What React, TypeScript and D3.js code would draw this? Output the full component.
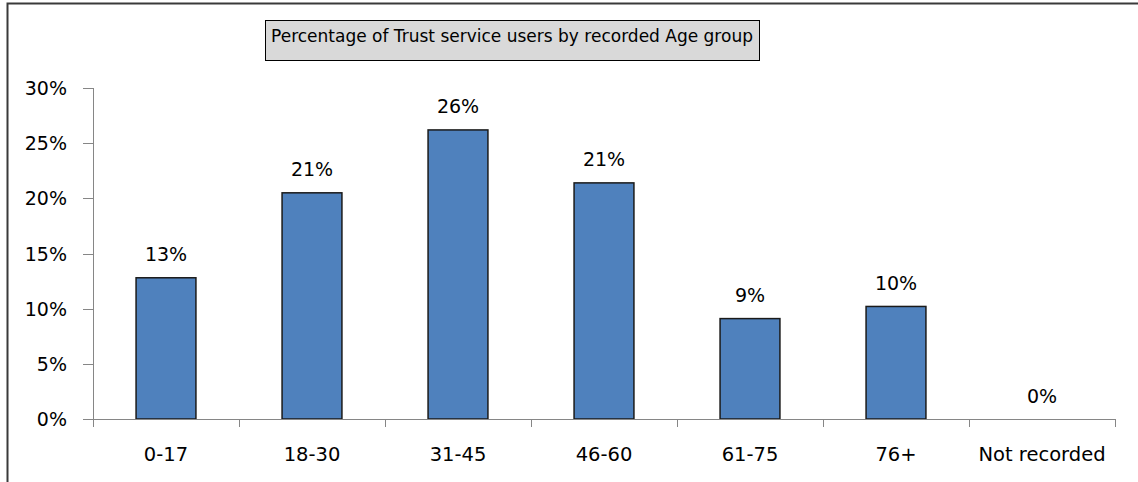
import React from "react";
import * as d3 from "d3";

const categories = ["0-17", "18-30", "31-45", "46-60", "61-75", "76+", "Not recorded"];
const values = [12.8, 20.5, 26.2, 21.4, 9.1, 10.2, 0];
const labels = ["13%", "21%", "26%", "21%", "9%", "10%", "0%"];
const yTicks = [0, 5, 10, 15, 20, 25, 30];
const title = "Percentage of Trust service users by recorded Age group";

export default function App() {
  const W = 1138, H = 482;
  const left = 93, right = 1115, top = 88, bottom = 419;
  const x = d3.scaleBand<string>().domain(categories).range([left, right]).paddingInner(0.59).paddingOuter(0.295);
  const xOuter = d3.scaleBand<string>().domain(categories).range([left, right]);
  const y = d3.scaleLinear().domain([0, 30]).range([bottom, top]);
  const font = "'DejaVu Sans', 'Liberation Sans', sans-serif";
  const bounds = [...categories.map((c) => xOuter(c)!), right];
  return (
    <svg width={W} height={H} style={{ position: "absolute", left: 0, top: 0, display: "block" }}>
      <rect x={0} y={0} width={W} height={H} fill="#fff" />
      <path d={`M7.5,${H} V3.5 H${W}`} fill="none" stroke="#3a3a3a" strokeWidth={2} />
      <rect x={265.5} y={20.5} width={494} height={40} fill="#d9d9d9" stroke="#000" strokeWidth={1} />
      <text x={512} y={42} textAnchor="middle" fontFamily={font} fontSize={17} fill="#000">{title}</text>
      {/* y axis */}
      <line x1={left + 0.5} x2={left + 0.5} y1={top} y2={bottom} stroke="#868686" />
      {yTicks.map((t) => (
        <g key={t}>
          <line x1={83} x2={left} y1={Math.round(y(t)) + 0.5} y2={Math.round(y(t)) + 0.5} stroke="#868686" />
          <text x={67} y={y(t) + 7} textAnchor="end" fontFamily={font} fontSize={19} fill="#000">{t}%</text>
        </g>
      ))}
      {/* bars */}
      {categories.map((c, i) => (
        <rect key={c} x={x(c)!} y={y(values[i])} width={x.bandwidth()} height={bottom - y(values[i])}
          fill="#4f81bd" stroke="#1a1a1a" strokeWidth={values[i] > 0 ? 1.5 : 0} />
      ))}
      {categories.map((c, i) => (
        <text key={c + "l"} x={x(c)! + x.bandwidth() / 2} y={y(values[i]) - 16.5} textAnchor="middle"
          fontFamily={font} fontSize={19} fill="#000">{labels[i]}</text>
      ))}
      {/* x axis */}
      <line x1={left} x2={right + 0.5} y1={bottom + 0.5} y2={bottom + 0.5} stroke="#868686" />
      {bounds.map((b, i) => (
        <line key={i} x1={Math.round(b) + 0.5} x2={Math.round(b) + 0.5} y1={bottom} y2={bottom + 8} stroke="#868686" />
      ))}
      {categories.map((c) => (
        <text key={c + "x"} x={xOuter(c)! + xOuter.bandwidth() / 2} y={461} textAnchor="middle"
          fontFamily={font} fontSize={19.5} fill="#000">{c}</text>
      ))}
    </svg>
  );
}
